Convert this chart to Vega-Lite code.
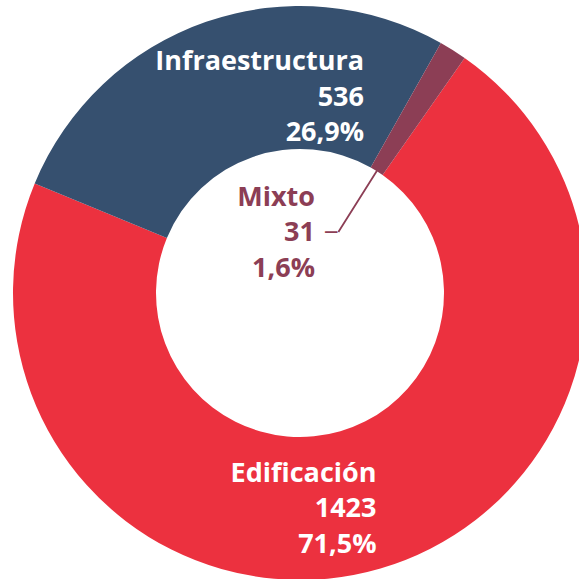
{
  "$schema": "https://vega.github.io/schema/vega-lite/v6.json",
  "width": 574,
  "height": 574,
  "autosize": {"type": "none"},
  "padding": {"left": 13, "top": 6, "right": 0, "bottom": 0},
  "background": "white",
  "config": {"view": {"stroke": null}},
  "data": {
    "values": [
      {"categoria": "Edificación", "valor": 1423, "pct": "71,5%"},
      {"categoria": "Infraestructura", "valor": 536, "pct": "26,9%"},
      {"categoria": "Mixto", "valor": 31, "pct": "1,6%"}
    ]
  },
  "transform": [
    {"calculate": "datum.categoria + '\\n' + datum.valor + '\\n' + datum.pct", "as": "etiqueta"}
  ],
  "encoding": {
    "theta": {"field": "valor", "type": "quantitative", "stack": true, "scale": {"range": [0.6109, 6.8941]}},
    "order": {"field": "categoria", "type": "nominal", "sort": "ascending"}
  },
  "layer": [
    {
      "mark": {"type": "arc", "innerRadius": 144, "outerRadius": 287},
      "encoding": {
        "color": {
          "field": "categoria",
          "type": "nominal",
          "scale": {"domain": ["Edificación", "Infraestructura", "Mixto"], "range": ["#EC313F", "#36506F", "#8C3E55"]},
          "legend": null
        }
      }
    },
    {
      "mark": {"type": "arc", "innerRadius": 72, "outerRadius": 150, "padAngle": 0.6, "filled": false, "stroke": "#8C3E55", "strokeWidth": 1.8},
      "encoding": {
        "strokeOpacity": {"condition": {"test": "datum.categoria === 'Mixto'", "value": 1}, "value": 0}
      }
    },
    {
      "mark": {"type": "text", "radius": 72, "align": "right", "baseline": "middle", "font": "DejaVu Sans", "fontWeight": "bold", "fontSize": 14, "color": "#8C3E55", "text": "—"},
      "encoding": {
        "opacity": {"condition": {"test": "datum.categoria === 'Mixto'", "value": 1}, "value": 0}
      }
    },
    {
      "mark": {"type": "text", "radius": 215, "dx": 134.3, "dy": -19.8, "align": "right", "baseline": "alphabetic", "lineBreak": "\n", "lineHeight": 35.5, "font": "Open Sans", "fontWeight": "bold", "fontSize": 27, "color": "white"},
      "encoding": {
        "text": {"field": "etiqueta", "type": "nominal"},
        "opacity": {"condition": {"test": "datum.categoria === 'Infraestructura'", "value": 1}, "value": 0}
      }
    },
    {
      "mark": {"type": "text", "radius": 215, "dx": 16.2, "dy": -17.7, "align": "right", "baseline": "alphabetic", "lineBreak": "\n", "lineHeight": 35.5, "font": "Open Sans", "fontWeight": "bold", "fontSize": 27, "color": "white"},
      "encoding": {
        "text": {"field": "etiqueta", "type": "nominal"},
        "opacity": {"condition": {"test": "datum.categoria === 'Edificación'", "value": 1}, "value": 0}
      }
    },
    {
      "mark": {"type": "text", "radius": 72, "dx": -23.4, "dy": -26.4, "align": "right", "baseline": "alphabetic", "lineBreak": "\n", "lineHeight": 35.5, "font": "Open Sans", "fontWeight": "bold", "fontSize": 27, "color": "#8C3E55"},
      "encoding": {
        "text": {"field": "etiqueta", "type": "nominal"},
        "opacity": {"condition": {"test": "datum.categoria === 'Mixto'", "value": 1}, "value": 0}
      }
    }
  ]
}
